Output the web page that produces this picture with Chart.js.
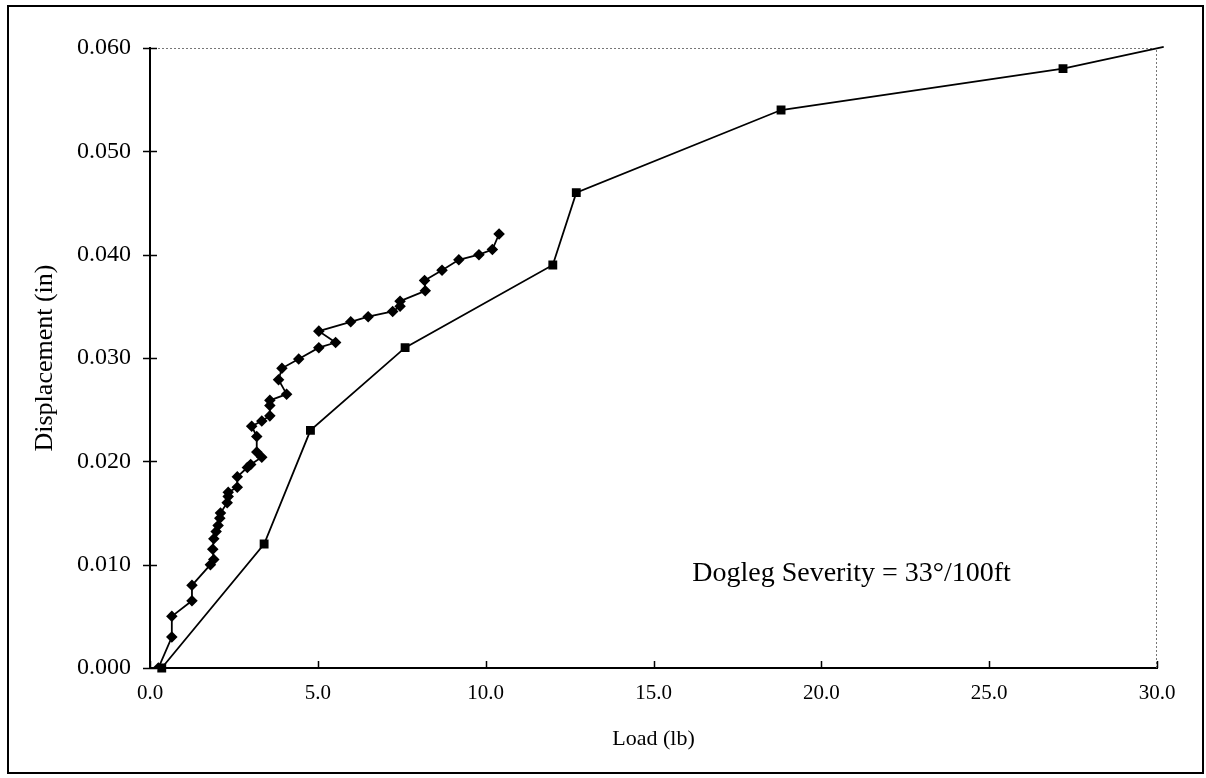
<!DOCTYPE html>
<html>
<head>
<meta charset="utf-8">
<script src="https://cdn.jsdelivr.net/npm/chart.js@4"></script>
<style>
  html, body { margin: 0; padding: 0; background: #fff; }
  #wrap { position: relative; width: 1206px; height: 778px; }
  #frame { position: absolute; left: 7px; top: 5px; width: 1193px; height: 765px; border: 2px solid #000; pointer-events: none; }
  canvas { position: absolute; left: 0; top: 0; }
</style>
</head>
<body>
<div id="wrap">
  <canvas id="chart" width="1206" height="778"></canvas>
  <div id="frame"></div>
</div>
<script>
// Load vs displacement, two test runs
const diamondLoad = [0.25, 0.65, 0.65, 1.25, 1.25, 1.8, 1.9, 1.87, 1.9, 1.97, 2.03, 2.08, 2.1, 2.3, 2.33, 2.33,
  2.6, 2.6, 2.9, 3.0, 3.33, 3.18, 3.18, 3.03, 3.33, 3.57, 3.57, 3.57, 4.07, 3.83, 3.93, 4.43,
  5.03, 5.53, 5.03, 5.98, 6.5, 7.23, 7.45, 7.45, 8.2, 8.18, 8.7, 9.2, 9.8, 10.2, 10.4];
const diamondDisp = [0.0, 0.003, 0.005, 0.0065, 0.008, 0.010, 0.0105, 0.0115, 0.0125, 0.0132, 0.0138, 0.0145, 0.015, 0.016, 0.0166, 0.017,
  0.0175, 0.0185, 0.0194, 0.0197, 0.0204, 0.0209, 0.0224, 0.0234, 0.0239, 0.0244, 0.0254, 0.0259, 0.0265, 0.0279, 0.029, 0.0299,
  0.031, 0.0315, 0.0326, 0.0335, 0.034, 0.0345, 0.035, 0.0355, 0.0365, 0.0375, 0.0385, 0.0395, 0.040, 0.0405, 0.042];

const squareLoad = [0.35, 3.4, 4.78, 7.6, 12.0, 12.7, 18.8, 27.2, 30.2];
const squareDisp = [0.0, 0.012, 0.023, 0.031, 0.039, 0.046, 0.054, 0.058, 0.0601];

const xTicks = [0, 5, 10, 15, 20, 25, 30];
const yTicks = [0, 0.01, 0.02, 0.03, 0.04, 0.05, 0.06];
const noteText = 'Dogleg Severity = 33°/100ft';

const toPoints = (xs, ys) => xs.map((x, i) => ({ x: x, y: ys[i] }));
const serif = '"Liberation Serif", "Times New Roman", serif';

// frame of plot area, tick marks and the note
const plotDecor = {
  id: 'plotDecor',
  beforeDatasetsDraw(chart) {
    const { ctx, chartArea: a, scales } = chart;
    ctx.save();
    ctx.strokeStyle = '#777';
    ctx.lineWidth = 1;
    ctx.setLineDash([2, 2]);
    ctx.beginPath();
    ctx.moveTo(a.left, a.top + 0.5);
    ctx.lineTo(a.right - 0.5, a.top + 0.5);
    ctx.lineTo(a.right - 0.5, a.bottom);
    ctx.stroke();
    ctx.setLineDash([]);
    ctx.strokeStyle = '#000';
    ctx.lineWidth = 1.5;
    ctx.beginPath();
    xTicks.forEach(v => {
      const px = Math.round(scales.x.getPixelForValue(v)) + 0.5;
      ctx.moveTo(px, a.bottom);
      ctx.lineTo(px, a.bottom - 7);
    });
    yTicks.forEach(v => {
      const py = Math.round(scales.y.getPixelForValue(v)) + 0.5;
      ctx.moveTo(a.left - 7, py);
      ctx.lineTo(a.left + 7, py);
    });
    ctx.stroke();
    ctx.restore();
  },
  afterDraw(chart) {
    const { ctx, scales } = chart;
    ctx.save();
    ctx.fillStyle = '#000';
    ctx.font = '28px ' + serif;
    ctx.textAlign = 'center';
    ctx.textBaseline = 'middle';
    ctx.fillText(noteText, scales.x.getPixelForValue(20.9), scales.y.getPixelForValue(0.0091));
    ctx.restore();
  }
};

new Chart(document.getElementById('chart'), {
  type: 'line',
  data: {
    datasets: [
      {
        label: 'Diamond',
        data: toPoints(diamondLoad, diamondDisp),
        borderColor: '#000',
        backgroundColor: '#000',
        borderWidth: 1.8,
        pointStyle: 'rectRot',
        pointRadius: 4.5,
        tension: 0
      },
      {
        label: 'Square',
        data: toPoints(squareLoad, squareDisp),
        borderColor: '#000',
        backgroundColor: '#000',
        borderWidth: 1.8,
        pointStyle: 'rect',
        pointRadius: squareLoad.map((v, i) => i === squareLoad.length - 1 ? 0 : 5),
        tension: 0,
        clip: false
      }
    ]
  },
  options: {
    responsive: false,
    animation: false,
    layout: { padding: { left: 30, top: 48, right: 49, bottom: 22 } },
    plugins: { legend: { display: false }, tooltip: { enabled: false } },
    scales: {
      x: {
        type: 'linear',
        min: 0,
        max: 30,
        afterBuildTicks: s => { s.ticks = xTicks.map(v => ({ value: v })); },
        afterFit: s => { s.height = 88; },
        grid: { display: false, drawTicks: false },
        border: { display: true, color: '#000', width: 2 },
        ticks: {
          padding: 13,
          color: '#000',
          font: { family: serif, size: 21 },
          callback: v => v.toFixed(1)
        },
        title: {
          display: true,
          text: 'Load (lb)',
          color: '#000',
          font: { family: serif, size: 22 },
          padding: { top: 0, bottom: 4 }
        }
      },
      y: {
        type: 'linear',
        min: 0,
        max: 0.06,
        afterBuildTicks: s => { s.ticks = yTicks.map(v => ({ value: v })); },
        afterFit: s => { s.width = 120; },
        grid: { display: false, drawTicks: false },
        border: { display: true, color: '#000', width: 2 },
        ticks: {
          padding: 19,
          color: '#000',
          font: { family: serif, size: 24 },
          callback: v => v.toFixed(3)
        },
        title: {
          display: true,
          text: 'Displacement (in)',
          color: '#000',
          font: { family: serif, size: 26 },
          padding: { top: 0, bottom: 0 }
        }
      }
    }
  },
  plugins: [plotDecor]
});
</script>
</body>
</html>
